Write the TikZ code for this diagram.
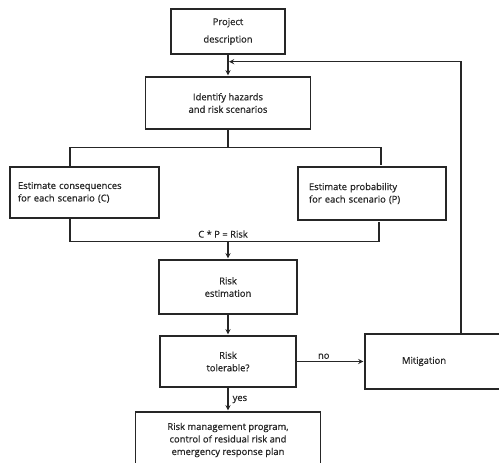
\documentclass[tikz,border=0pt]{standalone}
\usepackage{fontspec}
\newfontfamily\boxfont{Open Sans}[FakeBold=0.7]
\usepackage{xcolor}
\definecolor{ink}{HTML}{262626}
\usetikzlibrary{positioning}

\begin{document}
\begin{tikzpicture}[-,>=stealth,shorten >=1pt,x=1pt,y=1pt,line width=1.3pt,color=ink,
    box node/.style={draw,font=\boxfont\fontsize{9.4}{12.5}\selectfont,align=center,inner sep=3pt},
    label node/.style={font=\boxfont\fontsize{9.4}{12}\selectfont,inner sep=2pt}]

    \useasboundingbox (0,0) rectangle (499,463);
    \clip (0,0) rectangle (499,463);

    \node[box node, minimum width=114pt, minimum height=45pt] (proj) at (228,431.5) {Project\\[5pt]description};
    \node[box node, minimum width=165pt, minimum height=52pt] (ident) [below of=proj, node distance=71.5pt] {Identify hazards\\and risk scenarios};
    \node[box node, minimum width=149pt, minimum height=51pt, inner xsep=8pt, text width=133pt, align=left] (cons) at (84.5,270.5) {Estimate consequences\\for each scenario (C)};
    \node[box node, minimum width=148pt, minimum height=53pt, inner xsep=11pt, text width=126pt, align=left] (prob) at (372,269.5) {Estimate probability\\for each scenario (P)};
    \node[box node, minimum width=138pt, minimum height=54pt] (est) [below of=ident, node distance=184pt] {Risk\\estimation};
    \node[box node, minimum width=136pt, minimum height=51pt] (tol) [below of=est, node distance=74.5pt] {Risk\\tolerable?};
    \node[box node, minimum width=192pt, minimum height=55pt, inner xsep=37pt, text width=118pt, align=left] (mit) [right of=tol, node distance=233pt] {Mitigation};
    \node[box node, minimum width=185pt, minimum height=56pt] (plan) [below of=tol, node distance=78.5pt] {Risk management program,\\control of residual risk and\\emergency response plan};

    \coordinate[below=18pt of ident.south] (split);
    \coordinate[above=18pt of est.north] (merge);
    \node[label node, above=1pt of merge, xshift=-5pt] (cpr) {C * P = Risk};

    \draw[->] (proj) -- (ident);
    \draw[->] (mit.north) |- ([yshift=-7pt]proj.south);
    \draw (ident) -- (split);
    \draw ([xshift=-14.5pt]cons.north) |- (split) -| ([xshift=9pt]prob.north);
    \draw ([xshift=-14.5pt]cons.south) |- (merge) -| ([xshift=7pt]prob.south);
    \draw[->] (merge) -- (est);
    \draw[->] (est) -- (tol);
    \draw[->] (tol) -- node[label node, above, pos=0.4] (no) {no} (mit);
    \draw[->] (tol) -- node[label node, right, xshift=2pt] (yes) {yes} (plan);
\end{tikzpicture}
\end{document}
